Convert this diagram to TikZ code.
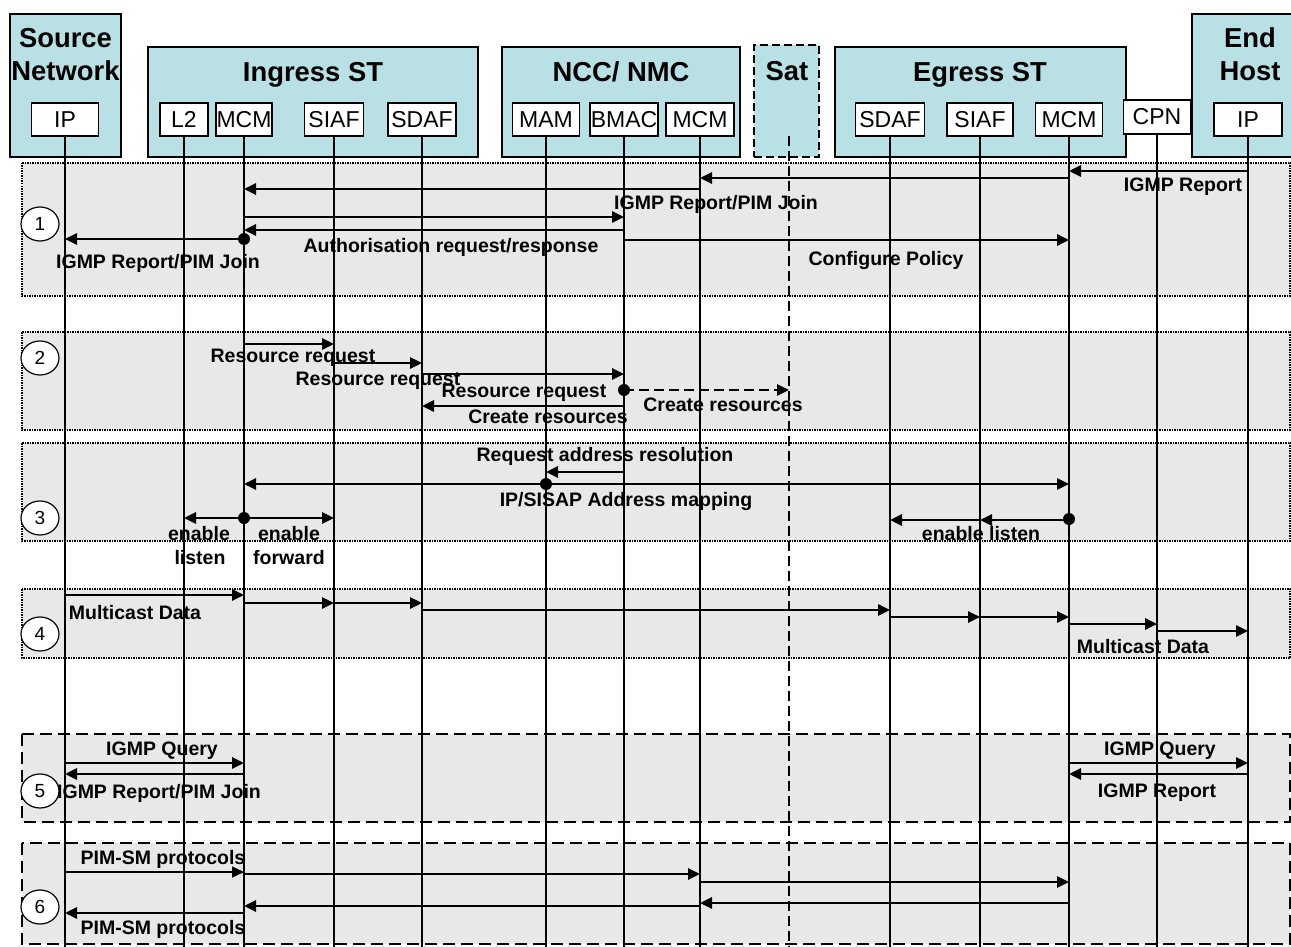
\documentclass[tikz,border=0pt]{standalone}
\usepackage{fontspec}
\setmainfont{Liberation Sans}
\usetikzlibrary{arrows.meta,shapes.geometric}
\definecolor{stteal}{RGB}{185,224,228}
\definecolor{phasegray}{RGB}{232,232,232}
\tikzstyle{group}=[draw,fill=stteal,line width=1.5pt,inner sep=0pt]
\tikzstyle{entity}=[draw,fill=white,line width=1.5pt,inner sep=0pt,minimum height=33pt,font=\fontsize{23}{27}\selectfont]
\tikzstyle{title}=[inner sep=0pt,anchor=base,font=\fontsize{27.4}{33}\selectfont\bfseries]
\tikzstyle{life}=[draw,line width=1.5pt]
\tikzstyle{satlife}=[draw,line width=2pt,dash pattern=on 10pt off 5pt]
\tikzstyle{msg}=[draw,line width=2.8pt,-{Triangle[length=12pt,width=11pt]}]
\tikzstyle{txt}=[inner sep=0pt,anchor=base,font=\fontsize{19.5}{24}\selectfont\bfseries]
\tikzstyle{phase}=[fill=phasegray,line width=1.5pt,densely dotted]
\tikzstyle{phasedash}=[fill=phasegray,line width=2pt,dash pattern=on 12pt off 6pt]
\tikzstyle{num}=[draw,ellipse,fill=white,line width=1.2pt,inner sep=0pt,minimum width=38pt,minimum height=34pt,font=\fontsize{19}{22}\selectfont]

\begin{document}
\begin{tikzpicture}[x=1pt,y=-1pt]
  \useasboundingbox (0,0) rectangle (1291,947);
  \clip (0,0) rectangle (1291,947);
  % phases
  \draw[phase] (22,163) rectangle (1290,296);
  \draw[phase] (22,332) rectangle (1290,430);
  \draw[phase] (22,443) rectangle (1290,541);
  \draw[phase] (22,589) rectangle (1290,658);
  \draw[phasedash] (22,734) rectangle (1290,822);
  \draw[phasedash] (22,843) rectangle (1290,944);
  % groups
  \node[group,minimum width=111pt,minimum height=143pt] (srcnet) at (65.5,85.5) {};
  \node[group,minimum width=330pt,minimum height=110pt] (ingress) at (313,102) {};
  \node[group,minimum width=238pt,minimum height=110pt] (ncc) at (621,102) {};
  \node[group,minimum width=65pt,minimum height=112pt,line width=2pt,dash pattern=on 8pt off 4pt] (satbox) at (786.5,101) {};
  \node[group,minimum width=291pt,minimum height=110pt] (egress) at (980.5,102) {};
  \node[group,minimum width=108pt,minimum height=143pt] (endhost) at (1246,85.5) {};
  \node[title] (srcT1) at (65.5,48) {Source};
  \node[title] (srcT2) at (65.5,81) {Network};
  \node[title] (ingressT) at (313,82) {Ingress ST};
  \node[title] (nccT) at (621,82) {NCC/ NMC};
  \node[title] (satT1) at (787,81) {Sat};
  \node[title] (egressT) at (980,82) {Egress ST};
  \node[title] (endT1) at (1250,48) {End};
  \node[title] (endT2) at (1250,81) {Host};
  % entities
  \node[entity,minimum width=67pt] (ipS) at (65,119.5) {IP};
  \node[entity,minimum width=48pt] (ltwo) at (184,119.5) {L2};
  \node[entity,minimum width=56pt] (mcmI) at (244,119.5) {MCM};
  \node[entity,minimum width=59pt] (siafI) at (334,119.5) {SIAF};
  \node[entity,minimum width=68pt] (sdafI) at (422,119.5) {SDAF};
  \node[entity,minimum width=67pt] (mam) at (546,119.5) {MAM};
  \node[entity,minimum width=68pt] (bmac) at (624,119.5) {BMAC};
  \node[entity,minimum width=68pt] (mcmN) at (700,119.5) {MCM};
  \node[entity,minimum width=69pt] (sdafE) at (890,119.5) {SDAF};
  \node[entity,minimum width=66pt] (siafE) at (980,119.5) {SIAF};
  \node[entity,minimum width=67pt] (mcmE) at (1069,119.5) {MCM};
  \node[entity,minimum width=67pt,minimum height=34pt] (cpn) at (1157,117) {CPN};
  \node[entity,minimum width=68pt] (ipH) at (1248,119.5) {IP};
  \coordinate (satL) at (789,136);
  % lifelines
  \foreach \n in {ipS,ltwo,mcmI,siafI,sdafI,mam,bmac,mcmN,sdafE,siafE,mcmE,cpn,ipH}
    \draw[life] (\n.south) -- (\n.south |- 0,947);
  \draw[satlife] (satL) -- (satL |- 0,947);
  % phase 1
  \draw[msg] (ipH |- 0,171) -- (mcmE |- 0,171);
  \draw[msg] (mcmE |- 0,178) -- (mcmN |- 0,178);
  \draw[msg] (mcmN |- 0,189) -- (mcmI |- 0,189);
  \draw[msg] (mcmI |- 0,217) -- (bmac |- 0,217);
  \draw[msg] (bmac |- 0,230) -- (mcmI |- 0,230);
  \fill (mcmI |- 0,239) circle (6pt);
  \draw[msg] (mcmI |- 0,239) -- (ipS |- 0,239);
  \draw[msg] (bmac |- 0,240) -- (mcmE |- 0,240);
  \node[txt] (igmpRep1) at (1183,191) {IGMP Report};
  \node[txt] (igmpJoin1) at (716,209) {IGMP Report/PIM Join};
  \node[txt] (authReq) at (451,252) {Authorisation request/response};
  \node[txt] (igmpJoin2) at (158,268) {IGMP Report/PIM Join};
  \node[txt] (confPol) at (886,265) {Configure Policy};
  % phase 2
  \draw[msg] (mcmI |- 0,344) -- (siafI |- 0,344);
  \draw[msg] (siafI |- 0,363) -- (sdafI |- 0,363);
  \draw[msg] (sdafI |- 0,374) -- (bmac |- 0,374);
  \fill (bmac |- 0,390) circle (6pt);
  \draw[msg,dash pattern=on 10pt off 5pt] (bmac |- 0,390) -- (satL |- 0,390);
  \draw[msg] (bmac |- 0,406) -- (sdafI |- 0,406);
  \node[txt] (resReq1) at (293,362) {Resource request};
  \node[txt] (resReq2) at (378,385) {Resource request};
  \node[txt] (resReq3) at (524,397) {Resource request};
  \node[txt] (creRes1) at (723,411) {Create resources};
  \node[txt] (creRes2) at (548,423) {Create resources};
  % phase 3
  \draw[msg] (bmac |- 0,472) -- (mam |- 0,472);
  \fill (mam |- 0,484) circle (6pt);
  \draw[msg] (mam |- 0,484) -- (mcmI |- 0,484);
  \draw[msg] (mam |- 0,484) -- (mcmE |- 0,484);
  \fill (mcmI |- 0,518) circle (6pt);
  \draw[msg] (mcmI |- 0,518) -- (ltwo |- 0,518);
  \draw[msg] (mcmI |- 0,518) -- (siafI |- 0,518);
  \fill (mcmE |- 0,519) circle (6pt);
  \draw[msg] (mcmE |- 0,520) -- (siafE |- 0,520);
  \draw[msg] (siafE |- 0,520) -- (sdafE |- 0,520);
  \node[txt] (addrRes) at (605,461) {Request address resolution};
  \node[txt] (addrMap) at (626,506) {IP/SISAP Address mapping};
  \node[txt] (enL1) at (199,540) {enable};
  \node[txt] (enL2) at (200,564) {listen};
  \node[txt] (enF1) at (289,540) {enable};
  \node[txt] (enF2) at (289,564) {forward};
  \node[txt] (enLE) at (981,540) {enable listen};
  % phase 4
  \draw[msg] (ipS |- 0,595) -- (mcmI |- 0,595);
  \draw[msg] (mcmI |- 0,603) -- (siafI |- 0,603);
  \draw[msg] (siafI |- 0,603) -- (sdafI |- 0,603);
  \draw[msg] (sdafI |- 0,610) -- (sdafE |- 0,610);
  \draw[msg] (sdafE |- 0,617) -- (siafE |- 0,617);
  \draw[msg] (siafE |- 0,617) -- (mcmE |- 0,617);
  \draw[msg] (mcmE |- 0,624) -- (cpn |- 0,624);
  \draw[msg] (cpn |- 0,631) -- (ipH |- 0,631);
  \node[txt] (mcData1) at (135,619) {Multicast Data};
  \node[txt] (mcData2) at (1143,653) {Multicast Data};
  % phase 5
  \draw[msg] (ipS |- 0,763) -- (mcmI |- 0,763);
  \draw[msg] (mcmI |- 0,774) -- (ipS |- 0,774);
  \draw[msg] (mcmE |- 0,763) -- (ipH |- 0,763);
  \draw[msg] (ipH |- 0,774) -- (mcmE |- 0,774);
  \node[txt] (query1) at (162,755) {IGMP Query};
  \node[txt] (igmpJoin3) at (159,798) {IGMP Report/PIM Join};
  \node[txt] (query2) at (1160,755) {IGMP Query};
  \node[txt] (igmpRep2) at (1157,797) {IGMP Report};
  % phase 6
  \draw[msg,line width=1.5pt] (ipS |- 0,872) -- (mcmI |- 0,872);
  \draw[msg] (mcmI |- 0,874) -- (mcmN |- 0,874);
  \draw[msg] (mcmN |- 0,882) -- (mcmE |- 0,882);
  \draw[msg] (mcmE |- 0,903) -- (mcmN |- 0,903);
  \draw[msg] (mcmN |- 0,906) -- (mcmI |- 0,906);
  \draw[msg] (mcmI |- 0,913) -- (ipS |- 0,913);
  \node[txt] (pimSM1) at (163,864) {PIM-SM protocols};
  \node[txt] (pimSM2) at (163,934) {PIM-SM protocols};
  % step numbers
  \node[num] (n1) at (40,224) {1};
  \node[num] (n2) at (40,358) {2};
  \node[num] (n3) at (40,518) {3};
  \node[num] (n4) at (40,634) {4};
  \node[num] (n5) at (40,791) {5};
  \node[num] (n6) at (40,907) {6};
\end{tikzpicture}
\end{document}
